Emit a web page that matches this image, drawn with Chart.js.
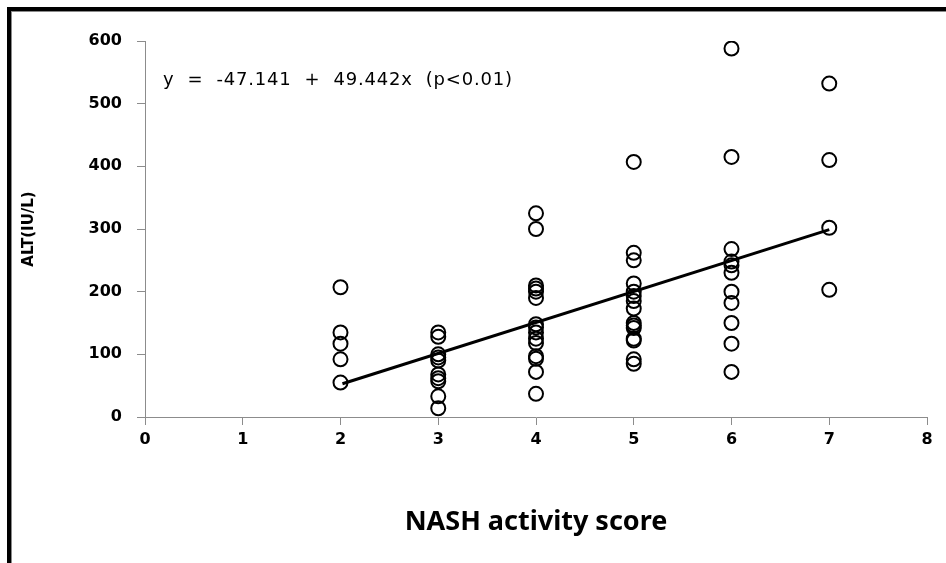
<!DOCTYPE html>
<html>
<head>
<meta charset="utf-8">
<script src="https://cdn.jsdelivr.net/npm/chart.js@4/dist/chart.umd.min.js"></script>
<style>
  html, body { margin: 0; padding: 0; background: #fff; }
  #wrap { position: relative; width: 946px; height: 563px; overflow: hidden; }
  #c { position: absolute; left: 0; top: 0; }
  .fb { position: absolute; background: #000; }
  .fg { position: absolute; background: #8a8a8a; }
</style>
</head>
<body>
<div id="wrap">
  <canvas id="c" width="946" height="563"></canvas>
  <div class="fb" style="left:7px;top:7px;width:939px;height:4px;"></div>
  <div class="fb" style="left:7px;top:7px;width:4px;height:556px;"></div>
  <div class="fg" style="left:11px;top:11px;width:935px;height:1px;"></div>
  <div class="fg" style="left:11px;top:11px;width:1px;height:552px;"></div>
</div>
<script>
// ALT values (IU/L) read for each NASH activity score
const alt2 = [207, 135, 117, 92, 55];
const alt3 = [135, 128, 100, 95, 90, 68, 62, 57, 33, 14];
const alt4 = [325, 300, 210, 205, 200, 190, 148, 143, 135, 125, 118, 97, 93, 72, 37];
const alt5 = [407, 262, 250, 213, 200, 193, 185, 173, 150, 146, 142, 125, 122, 92, 85];
const alt6 = [588, 415, 268, 248, 242, 230, 200, 182, 150, 117, 72];
const alt7 = [532, 410, 302, 203];
const scoreGroups = [2, 3, 4, 5, 6, 7];
// regression line endpoints
const fitX = [2.02, 7];
const fitY = [53, 299];
const xTicks = [0, 1, 2, 3, 4, 5, 6, 7, 8];
const yTicks = [0, 100, 200, 300, 400, 500, 600];
const equationText = 'y  =  -47.141  +  49.442x  (p<0.01)';

const groups = [alt2, alt3, alt4, alt5, alt6, alt7];
const points = [];
groups.forEach((g, i) => g.forEach(v => points.push({x: scoreGroups[i], y: v})));
const fitPts = fitX.map((x, i) => ({x: x, y: fitY[i]}));

const labelFont = {family: "'DejaVu Sans', sans-serif", size: 16, weight: 'bold'};

const annot = {
  id: 'annot',
  afterDraw(chart) {
    const ctx = chart.ctx;
    ctx.save();
    ctx.fillStyle = '#000';
    ctx.font = "18px 'DejaVu Sans', sans-serif";
    try { ctx.letterSpacing = '0.8px'; } catch (e) {}
    ctx.textBaseline = 'middle';
    ctx.textAlign = 'left';
    ctx.fillText(equationText, 163, 80);
    ctx.restore();
  }
};

new Chart(document.getElementById('c'), {
  type: 'scatter',
  data: {
    datasets: [
      {
        data: fitPts,
        type: 'line',
        borderColor: '#000',
        borderWidth: 3,
        pointRadius: 0,
        fill: false,
        order: 1
      },
      {
        data: points,
        pointRadius: 7,
        pointHoverRadius: 7,
        pointBorderWidth: 2,
        pointBackgroundColor: 'rgba(255,255,255,0)',
        pointBorderColor: '#000',
        order: 2
      }
    ]
  },
  options: {
    responsive: false,
    animation: false,
    events: [],
    layout: { padding: { left: 0, right: 19, top: 41, bottom: 0 } },
    plugins: { legend: { display: false }, tooltip: { enabled: false } },
    scales: {
      x: {
        type: 'linear',
        min: 0, max: 8,
        afterFit(s) { s.height = 146; },
        afterBuildTicks(s) { s.ticks = xTicks.map(v => ({value: v})); },
        border: { display: true, color: '#8c8c8c', width: 1 },
        grid: { display: true, drawOnChartArea: false, drawTicks: true, tickLength: 8, color: '#8c8c8c' },
        ticks: { color: '#000', font: labelFont, padding: 5, maxRotation: 0 },
        title: {
          display: true,
          text: 'NASH activity score',
          color: '#000',
          font: {family: "'Noto Sans', 'DejaVu Sans', sans-serif", size: 27, weight: 'bold'},
          padding: { top: 0, bottom: 24 }
        }
      },
      y: {
        type: 'linear',
        min: 0, max: 600,
        afterFit(s) { s.width = 145; },
        afterBuildTicks(s) { s.ticks = yTicks.map(v => ({value: v})); },
        border: { display: true, color: '#8c8c8c', width: 1 },
        grid: { display: true, drawOnChartArea: false, drawTicks: true, tickLength: 8, color: '#8c8c8c' },
        ticks: { color: '#000', font: labelFont, padding: 15 },
        title: {
          display: true,
          text: 'ALT(IU/L)',
          color: '#000',
          font: {family: "'DejaVu Sans', sans-serif", size: 15, weight: 'bold'},
          padding: { top: 20, bottom: 0 }
        }
      }
    }
  },
  plugins: [annot]
});
</script>
</body>
</html>
